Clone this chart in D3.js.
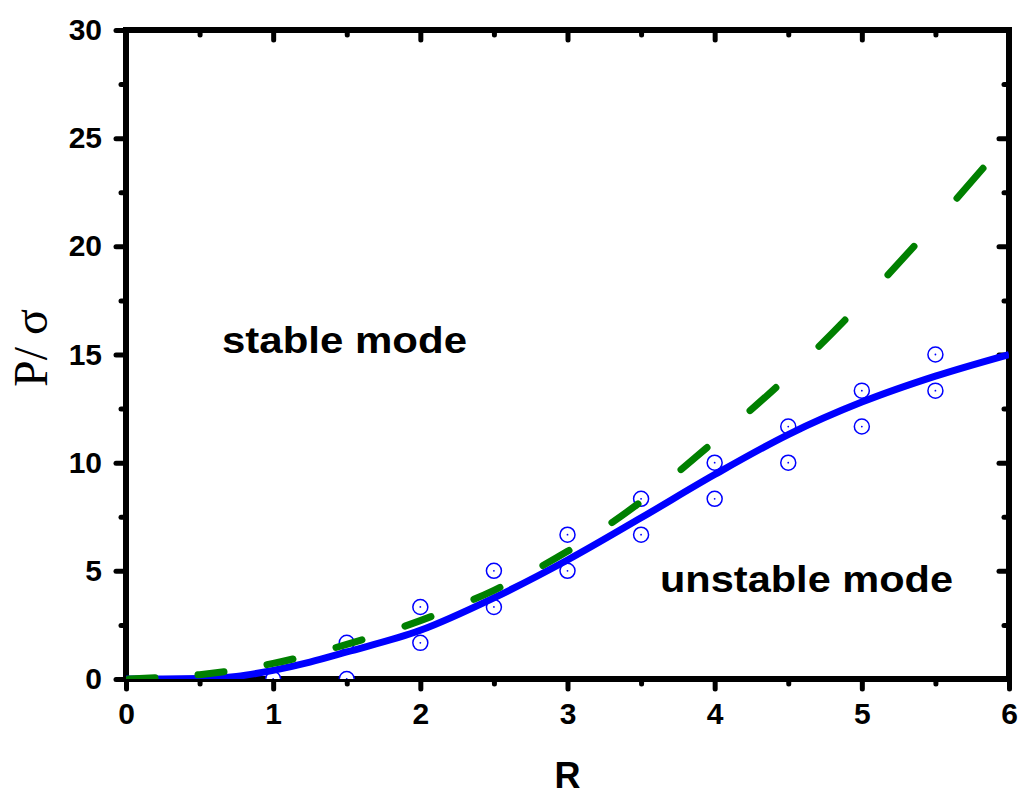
<!doctype html>
<html lang="en">
    <head>
        <meta charset="utf-8">
        <title>P/sigma vs R</title>
        <script type="text/javascript" src="https://cdn.jsdelivr.net/npm/d3@7"></script>
        <style>
            body { margin: 0; background: #fff; }
        </style>
    </head>
    <body>
        <script type="text/javascript">

            var svgW = 1023;
            var svgH = 799;
            var margin = {top: 30, right: 14, bottom: 120, left: 126};
            var plotW = svgW - margin.left - margin.right;
            var plotH = svgH - margin.top - margin.bottom;

            // solid blue curve
            var curveR = [0, 0.25, 0.5, 0.75, 1, 1.25, 1.5, 2, 2.5, 3, 3.5, 4, 4.5, 5, 5.5, 6];
            var curveP = [0, 0, 0.02, 0.12, 0.4, 0.78, 1.25, 2.25, 3.75, 5.5, 7.45, 9.45, 11.3, 12.8, 14.0, 15.0];

            // dashed green curve
            var dashR = [0, 0.5, 1, 1.5, 2, 2.5, 3, 3.5, 4, 4.5, 5, 5.5, 6];
            var dashP = [0, 0.2, 0.72, 1.6, 2.7, 4.1, 5.9, 8.2, 11.0, 14.0, 17.4, 21.1, 25.0];

            // open circles
            var pointR = [1, 1.5, 1.5, 2, 2, 2.5, 2.5, 3, 3, 3.5, 3.5, 4, 4, 4.5, 4.5, 5, 5, 5.5, 5.5];
            var pointP = [0, 0, 1.67, 1.67, 3.33, 3.33, 5, 5, 6.67, 6.67, 8.33, 8.33, 10, 10, 11.67, 11.67, 13.33, 13.33, 15];

            var xTicks = [0, 1, 2, 3, 4, 5, 6];
            var xMinor = [0.5, 1.5, 2.5, 3.5, 4.5, 5.5];
            var yTicks = [0, 5, 10, 15, 20, 25, 30];
            var yMinor = [2.5, 7.5, 12.5, 17.5, 22.5, 27.5];

            var xScale = d3.scaleLinear()
                           .domain([0, 6])
                           .range([0, plotW]);

            var yScale = d3.scaleLinear()
                           .domain([0, 30])
                           .range([plotH, 0]);

            var svg = d3.select("body")
                        .append("svg")
                        .attr("width", svgW)
                        .attr("height", svgH)
                        .append("g")
                        .attr("transform", "translate(" + margin.left + "," + margin.top + ")");

            svg.append("clipPath")
               .attr("id", "plotClip")
               .append("rect")
               .attr("width", plotW)
               .attr("height", plotH);

            var tickFont = "'Liberation Sans', Arial, sans-serif";

            // axes: outward on left/bottom, mirrored inward on top/right
            var xBottom = d3.axisBottom(xScale).tickValues(xTicks).tickSize(10).tickPadding(14).tickFormat(d3.format("d"));
            var xBottomMinor = d3.axisBottom(xScale).tickValues(xMinor).tickSize(5).tickFormat("");
            var xTop = d3.axisBottom(xScale).tickValues(xTicks).tickSize(10).tickFormat("");
            var xTopMinor = d3.axisBottom(xScale).tickValues(xMinor).tickSize(5).tickFormat("");
            var yLeft = d3.axisLeft(yScale).tickValues(yTicks).tickSize(10).tickPadding(14).tickFormat(d3.format("d"));
            var yLeftMinor = d3.axisLeft(yScale).tickValues(yMinor).tickSize(5).tickFormat("");
            var yRight = d3.axisLeft(yScale).tickValues(yTicks).tickSize(10).tickFormat("");
            var yRightMinor = d3.axisLeft(yScale).tickValues(yMinor).tickSize(5).tickFormat("");

            var axes = svg.append("g").attr("class", "axes");
            axes.append("g").attr("transform", "translate(0," + plotH + ")").call(xBottom);
            axes.append("g").attr("transform", "translate(0," + plotH + ")").call(xBottomMinor);
            axes.append("g").call(xTop);
            axes.append("g").call(xTopMinor);
            axes.append("g").call(yLeft);
            axes.append("g").call(yLeftMinor);
            axes.append("g").attr("transform", "translate(" + plotW + ",0)").call(yRight);
            axes.append("g").attr("transform", "translate(" + plotW + ",0)").call(yRightMinor);

            axes.selectAll(".domain").remove();
            axes.selectAll(".tick line")
                .attr("stroke", "black")
                .attr("stroke-width", 5)
                .attr("stroke-linecap", "round");
            axes.selectAll(".tick text")
                .attr("fill", "black")
                .attr("font-family", tickFont)
                .attr("font-weight", "bold")
                .attr("font-size", "30px");

            // frame
            axes.append("rect")
                .attr("width", plotW)
                .attr("height", plotH)
                .attr("fill", "none")
                .attr("stroke", "black")
                .attr("stroke-width", 6);

            var plot = svg.append("g").attr("clip-path", "url(#plotClip)");

            plot.selectAll("circle.pt")
                .data(pointR)
                .enter()
                .append("circle")
                .attr("class", "pt")
                .attr("cx", d => xScale(d))
                .attr("cy", (_, i) => yScale(pointP[i]))
                .attr("r", 7.5)
                .attr("fill", "white")
                .attr("stroke", "#0000ff")
                .attr("stroke-width", 1.5);

            plot.selectAll("circle.dot")
                .data(pointR)
                .enter()
                .append("circle")
                .attr("class", "dot")
                .attr("cx", d => xScale(d))
                .attr("cy", (_, i) => yScale(pointP[i]))
                .attr("r", 0.9)
                .attr("fill", "#0000ff");

            var line = d3.line()
                         .x(d => xScale(d[0]))
                         .y(d => yScale(d[1]))
                         .curve(d3.curveMonotoneX);

            plot.append("path")
                .datum(curveR.map((r, i) => [r, curveP[i]]))
                .attr("d", line)
                .attr("fill", "none")
                .attr("stroke", "#0000ff")
                .attr("stroke-width", 7);

            var green = plot.append("path")
                            .datum(dashR.map((r, i) => [r, dashP[i]]))
                            .attr("d", line)
                            .attr("fill", "none")
                            .attr("stroke", "#008000")
                            .attr("stroke-width", 7)
                            .attr("stroke-linecap", "round");

            // dashes repeat at a fixed horizontal step, so turn x windows into path lengths
            var dashStep = 69, dashWidth = 26, dashStart = 3;
            var gNode = green.node();
            var total = gNode.getTotalLength();
            var lenAtX = function(x) {
                var lo = 0, hi = total;
                for (var k = 0; k < 40; k++) {
                    var mid = (lo + hi) / 2;
                    if (gNode.getPointAtLength(mid).x < x) lo = mid; else hi = mid;
                }
                return (lo + hi) / 2;
            };
            var marks = [];
            for (var x0 = dashStart; x0 < plotW; x0 += dashStep) {
                marks.push([lenAtX(x0), lenAtX(Math.min(x0 + dashWidth, plotW))]);
            }
            var dashes = [];
            marks.forEach(function(m, i) {
                dashes.push(m[1] - m[0]);
                dashes.push(i < marks.length - 1 ? marks[i + 1][0] - m[1] : total);
            });
            green.attr("stroke-dasharray", dashes.join(","))
                 .attr("stroke-dashoffset", -marks[0][0]);

            // labels
            svg.append("text")
               .attr("x", 96)
               .attr("y", 323)
               .attr("textLength", 245)
               .attr("lengthAdjust", "spacingAndGlyphs")
               .attr("font-family", tickFont)
               .attr("font-weight", "bold")
               .attr("font-size", "37px")
               .attr("fill", "black")
               .text("stable mode");

            svg.append("text")
               .attr("x", 534)
               .attr("y", 562)
               .attr("textLength", 293)
               .attr("lengthAdjust", "spacingAndGlyphs")
               .attr("font-family", tickFont)
               .attr("font-weight", "bold")
               .attr("font-size", "37px")
               .attr("fill", "black")
               .text("unstable mode");

            svg.append("text")
               .attr("x", plotW / 2)
               .attr("y", 758)
               .attr("text-anchor", "middle")
               .attr("font-family", tickFont)
               .attr("font-weight", "bold")
               .attr("font-size", "36px")
               .attr("fill", "black")
               .text("R");

            svg.append("text")
               .attr("transform", "translate(-79," + (348 - margin.top) + ") rotate(-90)")
               .attr("text-anchor", "middle")
               .attr("font-family", "'Liberation Serif', 'Times New Roman', serif")
               .attr("font-size", "48px")
               .attr("fill", "black")
               .text("P/ \u03c3");

        </script>
    </body>
</html>
